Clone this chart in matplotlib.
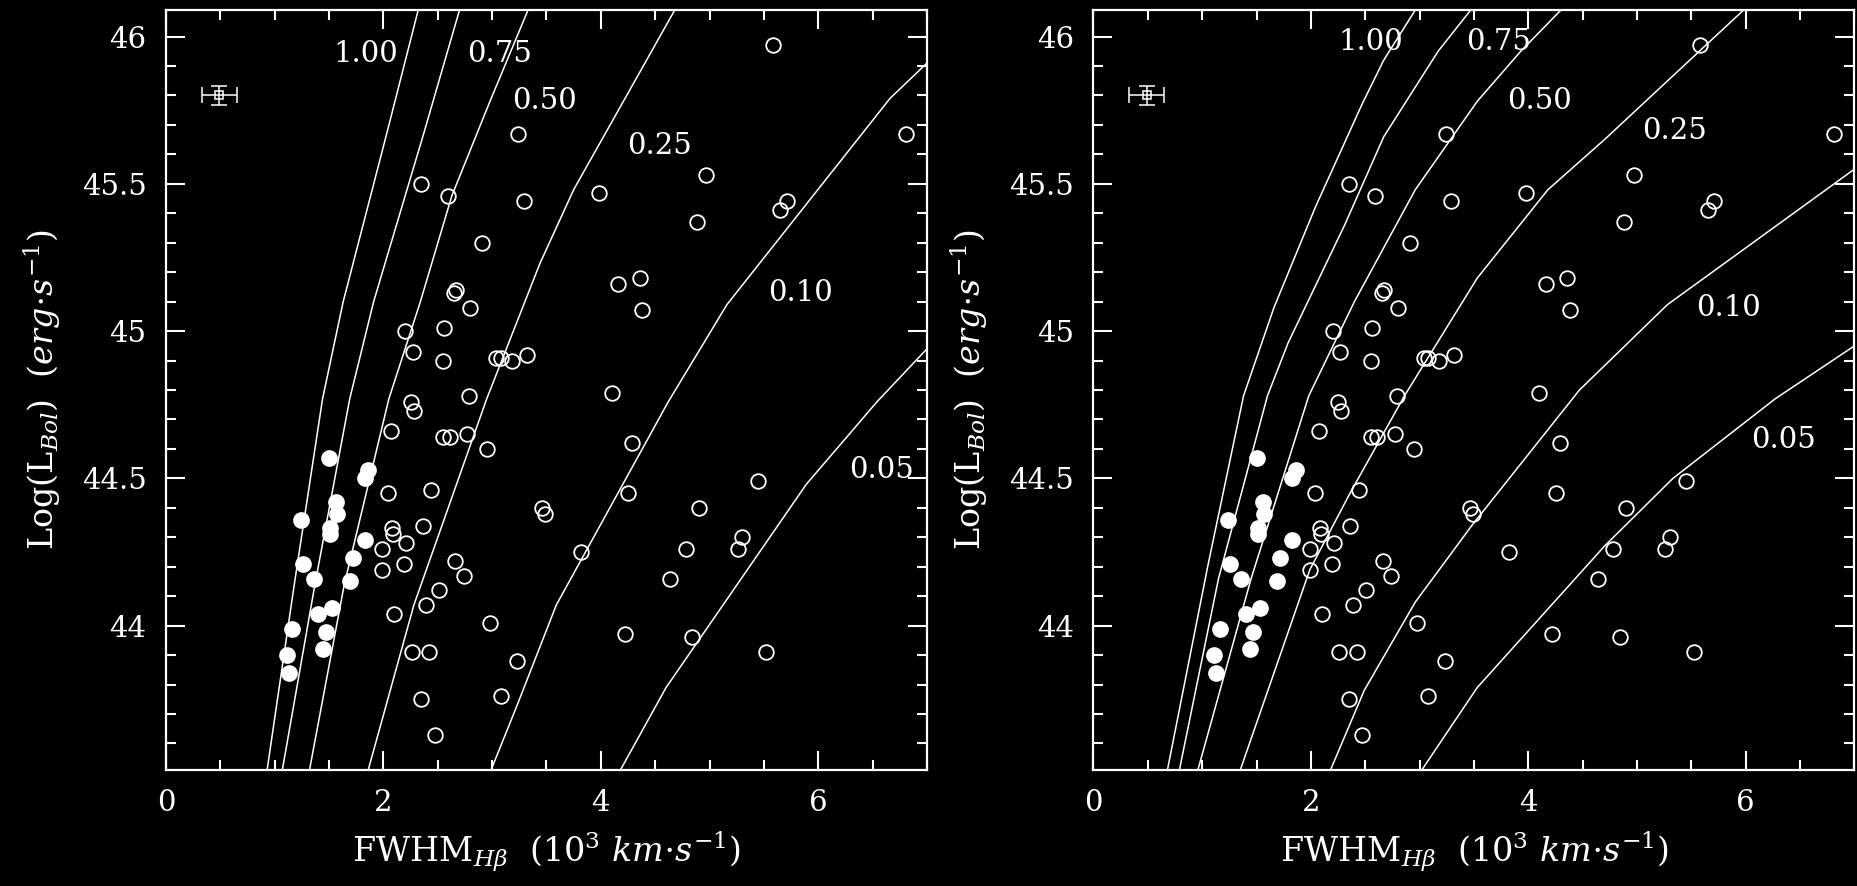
import matplotlib
matplotlib.use('Agg')
import matplotlib.pyplot as plt
from matplotlib.ticker import MultipleLocator

plt.rcParams['font.family'] = 'DejaVu Serif'
plt.rcParams['mathtext.fontset'] = 'dejavuserif'

# open circles: FWHM (10^3 km/s), log L_bol
open_x = [5.58, 3.24, 6.81, 4.97, 2.35, 3.98, 2.59, 3.29, 5.71, 5.65,
          4.88, 2.91, 4.36, 4.16, 2.67, 2.65, 2.80, 4.38, 2.20, 2.56,
          2.27, 3.32, 3.04, 3.08, 3.18, 2.55, 4.10, 2.79, 2.25, 2.28,
          2.07, 2.55, 2.61, 2.77, 4.29, 2.95, 5.45, 2.44, 4.25, 2.04,
          4.90, 3.46, 3.49, 2.36, 2.08, 2.09, 5.30, 2.21, 1.99, 5.26,
          3.82, 4.78, 2.66, 2.19, 1.99, 2.74, 4.64, 2.51, 2.39, 2.10,
          2.98, 4.22, 4.84, 2.26, 2.42, 5.52, 3.23, 3.08, 2.35, 2.47]
open_y = [45.97, 45.67, 45.67, 45.53, 45.50, 45.47, 45.46, 45.44, 45.44, 45.41,
          45.37, 45.30, 45.18, 45.16, 45.14, 45.13, 45.08, 45.07, 45.00, 45.01,
          44.93, 44.92, 44.91, 44.91, 44.90, 44.90, 44.79, 44.78, 44.76, 44.73,
          44.66, 44.64, 44.64, 44.65, 44.62, 44.60, 44.49, 44.46, 44.45, 44.45,
          44.40, 44.40, 44.38, 44.34, 44.33, 44.31, 44.30, 44.28, 44.26, 44.26,
          44.25, 44.26, 44.22, 44.21, 44.19, 44.17, 44.16, 44.12, 44.07, 44.04,
          44.01, 43.97, 43.96, 43.91, 43.91, 43.91, 43.88, 43.76, 43.75, 43.63]

# filled circles
fill_x = [1.50, 1.86, 1.83, 1.56, 1.57, 1.24, 1.51, 1.51, 1.83, 1.72,
          1.26, 1.36, 1.69, 1.53, 1.40, 1.47, 1.16, 1.44, 1.11, 1.13]
fill_y = [44.57, 44.53, 44.50, 44.42, 44.38, 44.36, 44.33, 44.31, 44.29, 44.23,
          44.21, 44.16, 44.15, 44.06, 44.04, 43.98, 43.99, 43.92, 43.90, 43.84]

# typical error bar
err_x, err_y = 0.49, 45.80
err_dx, err_dy = 0.16, 0.032

curve_names = ['1.00', '0.75', '0.50', '0.25', '0.10', '0.05']

# left panel model curves (x, y) samples
left_curves = {
    '1.00': ([0.93, 1.18, 1.44, 1.63, 2.03, 2.32],
             [43.51, 44.14, 44.77, 45.10, 45.67, 46.09]),
    '0.75': ([1.07, 1.37, 1.69, 1.91, 2.37, 2.70],
             [43.51, 44.14, 44.77, 45.10, 45.67, 46.09]),
    '0.50': ([1.32, 1.64, 2.05, 2.34, 2.63, 2.98, 3.33],
             [43.51, 44.14, 44.77, 45.10, 45.46, 45.78, 46.09]),
    '0.25': ([1.86, 2.16, 2.28, 2.95, 3.44, 3.75, 4.68],
             [43.51, 43.91, 44.07, 44.77, 45.23, 45.48, 46.09]),
    '0.10': ([2.99, 3.23, 3.59, 4.62, 5.16, 6.66, 7.0],
             [43.51, 43.73, 44.07, 44.76, 45.09, 45.79, 45.91]),
    '0.05': ([4.18, 4.60, 5.89, 6.54, 7.0],
             [43.51, 43.79, 44.48, 44.76, 44.94]),
}

# right panel model curves
right_curves = {
    '1.00': ([0.68, 1.05, 1.38, 1.66, 2.04, 2.47, 2.67, 2.96],
             [43.51, 44.20, 44.78, 45.08, 45.42, 45.77, 45.92, 46.09]),
    '0.75': ([0.79, 1.15, 1.60, 1.79, 2.31, 2.67, 3.17, 3.47],
             [43.51, 44.16, 44.78, 44.96, 45.36, 45.66, 45.95, 46.09]),
    '0.50': ([0.96, 1.45, 1.98, 2.40, 2.96, 3.53, 3.93, 4.30],
             [43.51, 44.16, 44.78, 45.10, 45.48, 45.78, 45.95, 46.09]),
    '0.25': ([1.35, 1.99, 2.36, 2.86, 3.53, 4.18, 4.70, 5.98],
             [43.51, 44.19, 44.45, 44.78, 45.18, 45.48, 45.65, 46.09]),
    '0.10': ([2.18, 2.49, 2.96, 3.48, 4.47, 5.28, 7.0],
             [43.51, 43.78, 44.08, 44.34, 44.80, 45.09, 45.55]),
    '0.05': ([3.02, 3.53, 4.70, 5.33, 6.27, 7.0],
             [43.51, 43.79, 44.27, 44.50, 44.77, 44.95]),
}

left_labels = {'1.00': (1.84, 45.94), '0.75': (3.07, 45.94), '0.50': (3.48, 45.78),
               '0.25': (4.54, 45.63), '0.10': (5.84, 45.13), '0.05': (6.58, 44.53)}
right_labels = {'1.00': (2.55, 45.98), '0.75': (3.73, 45.98), '0.50': (4.10, 45.78),
                '0.25': (5.34, 45.68), '0.10': (5.84, 45.08), '0.05': (6.35, 44.63)}

W, H = 1858, 886
fig = plt.figure(figsize=(W / 100, H / 100), dpi=100, facecolor='black')

panels = [(166, left_curves, left_labels), (1093.5, right_curves, right_labels)]

for x0, curves, labels in panels:
    ax = fig.add_axes([x0 / W, (H - 770) / H, 761 / W, 760 / H])
    ax.set_facecolor('black')

    for name in curve_names:
        cx, cy = curves[name]
        ax.plot(cx, cy, color='white', lw=1.1)
        lx, ly = labels[name]
        ax.text(lx, ly, name, color='white', fontsize=21, ha='center', va='center')

    ax.plot(open_x, open_y, 'o', ms=10.5, mfc='none', mec='white', mew=1.3)
    ax.plot(fill_x, fill_y, 'o', ms=11, mfc='white', mec='white', mew=1.0)

    ax.errorbar(err_x, err_y, xerr=err_dx, yerr=err_dy, fmt='s', ms=6,
                mfc='none', mec='white', mew=1.1, ecolor='white',
                elinewidth=1.1, capsize=6, capthick=1.1)

    ax.set_xlim(0, 7)
    ax.set_ylim(43.51, 46.09)
    ax.xaxis.set_major_locator(MultipleLocator(2))
    ax.xaxis.set_minor_locator(MultipleLocator(0.5))
    ax.yaxis.set_major_locator(MultipleLocator(0.5))
    ax.yaxis.set_minor_locator(MultipleLocator(0.1))
    ax.set_yticks([44, 44.5, 45, 45.5, 46])
    ax.set_yticklabels(['44', '44.5', '45', '45.5', '46'])

    ax.tick_params(which='both', direction='in', top=True, right=True,
                   colors='white', width=1.5, labelsize=21)
    ax.tick_params(which='major', length=14, pad=14)
    ax.tick_params(which='minor', length=7)
    for sp in ax.spines.values():
        sp.set_color('white')
        sp.set_linewidth(1.6)

    ax.set_xlabel(r'FWHM$_{H\beta}$  (10$^3$ $km{\cdot}s^{-1}$)',
                  color='white', fontsize=24, va='center')
    ax.xaxis.set_label_coords(0.5, -0.108)
    ax.set_ylabel(r'Log(L$_{Bol}$)  ($erg{\cdot}s^{-1}$)',
                  color='white', fontsize=24, va='center')
    ax.yaxis.set_label_coords(-0.163, 0.5)

fig.savefig('out.png', dpi=100, facecolor='black')
